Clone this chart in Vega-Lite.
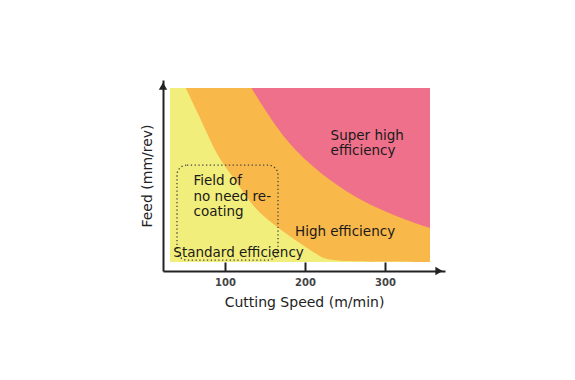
{
  "$schema": "https://vega.github.io/schema/vega-lite/v6.json",
  "width": 282,
  "height": 191,
  "autosize": {"type": "none"},
  "padding": {"left": 163, "top": 80, "right": 130, "bottom": 109},
  "background": "white",
  "config": {
    "view": {"stroke": null},
    "font": "DejaVu Sans",
    "axisX": {"grid": false, "tickSize": -9, "tickWidth": 2, "tickColor": "#222", "domainColor": "#222", "domainWidth": 2, "labelFontSize": 10, "labelFontWeight": "bold", "labelColor": "#444", "labelPadding": 15, "titleFontSize": 14, "titleFontWeight": "normal", "titleColor": "#222", "titlePadding": 8},
    "axisY": {"grid": false, "ticks": false, "labels": false, "domainColor": "#222", "domainWidth": 2, "titleFontSize": 14, "titleFontWeight": "normal", "titleColor": "#222", "titlePadding": 9}
  },
  "datasets": {
    "bg": [{"x1": 31.25, "x2": 356.25, "y1": 0, "y2": 1}],
    "high": [
      {"speed": 51, "feed": 1.0},
      {"speed": 68.75, "feed": 0.828},
      {"speed": 81.25, "feed": 0.701},
      {"speed": 93.75, "feed": 0.586},
      {"speed": 110, "feed": 0.489},
      {"speed": 125, "feed": 0.385},
      {"speed": 137.5, "feed": 0.31},
      {"speed": 156.25, "feed": 0.23},
      {"speed": 178.75, "feed": 0.155},
      {"speed": 202.5, "feed": 0.08},
      {"speed": 218.75, "feed": 0.03},
      {"speed": 235, "feed": 0},
      {"speed": 356.25, "feed": 0}
    ],
    "superhigh": [
      {"speed": 133, "feed": 1.0},
      {"speed": 156.25, "feed": 0.828},
      {"speed": 186.25, "feed": 0.64},
      {"speed": 232.5, "feed": 0.46},
      {"speed": 272.5, "feed": 0.345},
      {"speed": 315, "feed": 0.26},
      {"speed": 356.25, "feed": 0.195}
    ],
    "field": [{"x1": 40, "x2": 166.25, "y1": 0.011, "y2": 0.557}],
    "labels": [
      {"text": "Super high", "speed": 232, "feed": 0.70},
      {"text": "efficiency", "speed": 232, "feed": 0.614},
      {"text": "High efficiency", "speed": 187.5, "feed": 0.151},
      {"text": "Standard efficiency", "speed": 35.4, "feed": 0.03},
      {"text": "Field of", "speed": 60.6, "feed": 0.44},
      {"text": "no need re-", "speed": 60.6, "feed": 0.35},
      {"text": "coating", "speed": 60.6, "feed": 0.262}
    ],
    "arrows": [
      {"speed": 22.5, "feed": 1.011, "dir": "up"},
      {"speed": 367.5, "feed": -0.052, "dir": "right"}
    ]
  },
  "layer": [
    {
      "data": {"name": "bg"},
      "mark": {"type": "rect", "fill": "#F2EE7C"},
      "encoding": {
        "x": {"field": "x1", "type": "quantitative", "title": "Cutting Speed (m/min)", "scale": {"domain": [22.5, 375], "nice": false, "zero": false}, "axis": {"values": [100, 200, 300]}},
        "x2": {"field": "x2"},
        "y": {"field": "y1", "type": "quantitative", "title": "Feed (mm/rev)", "scale": {"domain": [-0.052, 1.046], "nice": false, "zero": false}},
        "y2": {"field": "y2"}
      }
    },
    {
      "data": {"name": "high"},
      "mark": {"type": "area", "fill": "#F8B84A", "interpolate": "basis"},
      "encoding": {
        "x": {"field": "speed", "type": "quantitative", "title": "Cutting Speed (m/min)"},
        "y": {"field": "feed", "type": "quantitative", "title": "Feed (mm/rev)"},
        "y2": {"datum": 1}
      }
    },
    {
      "data": {"name": "superhigh"},
      "mark": {"type": "area", "fill": "#EE708A", "interpolate": "basis"},
      "encoding": {
        "x": {"field": "speed", "type": "quantitative", "title": "Cutting Speed (m/min)"},
        "y": {"field": "feed", "type": "quantitative", "title": "Feed (mm/rev)"},
        "y2": {"datum": 1}
      }
    },
    {
      "data": {"name": "field"},
      "mark": {"type": "rect", "filled": false, "stroke": "#444", "strokeWidth": 1.3, "strokeDash": [1.3, 2.5], "cornerRadius": 10},
      "encoding": {
        "x": {"field": "x1", "type": "quantitative", "title": "Cutting Speed (m/min)"},
        "x2": {"field": "x2"},
        "y": {"field": "y1", "type": "quantitative", "title": "Feed (mm/rev)"},
        "y2": {"field": "y2"}
      }
    },
    {
      "data": {"name": "labels"},
      "mark": {"type": "text", "align": "left", "baseline": "alphabetic", "fontSize": 13.5, "color": "#1a1a1a"},
      "encoding": {
        "x": {"field": "speed", "type": "quantitative", "title": "Cutting Speed (m/min)"},
        "y": {"field": "feed", "type": "quantitative", "title": "Feed (mm/rev)"},
        "text": {"field": "text"}
      }
    },
    {
      "data": {"name": "arrows"},
      "mark": {"type": "point", "filled": true, "color": "#222", "size": 70, "opacity": 1},
      "encoding": {
        "x": {"field": "speed", "type": "quantitative", "title": "Cutting Speed (m/min)"},
        "y": {"field": "feed", "type": "quantitative", "title": "Feed (mm/rev)"},
        "shape": {"field": "dir", "type": "nominal", "scale": {"domain": ["up", "right"], "range": ["triangle-up", "triangle-right"]}, "legend": null}
      }
    }
  ]
}
